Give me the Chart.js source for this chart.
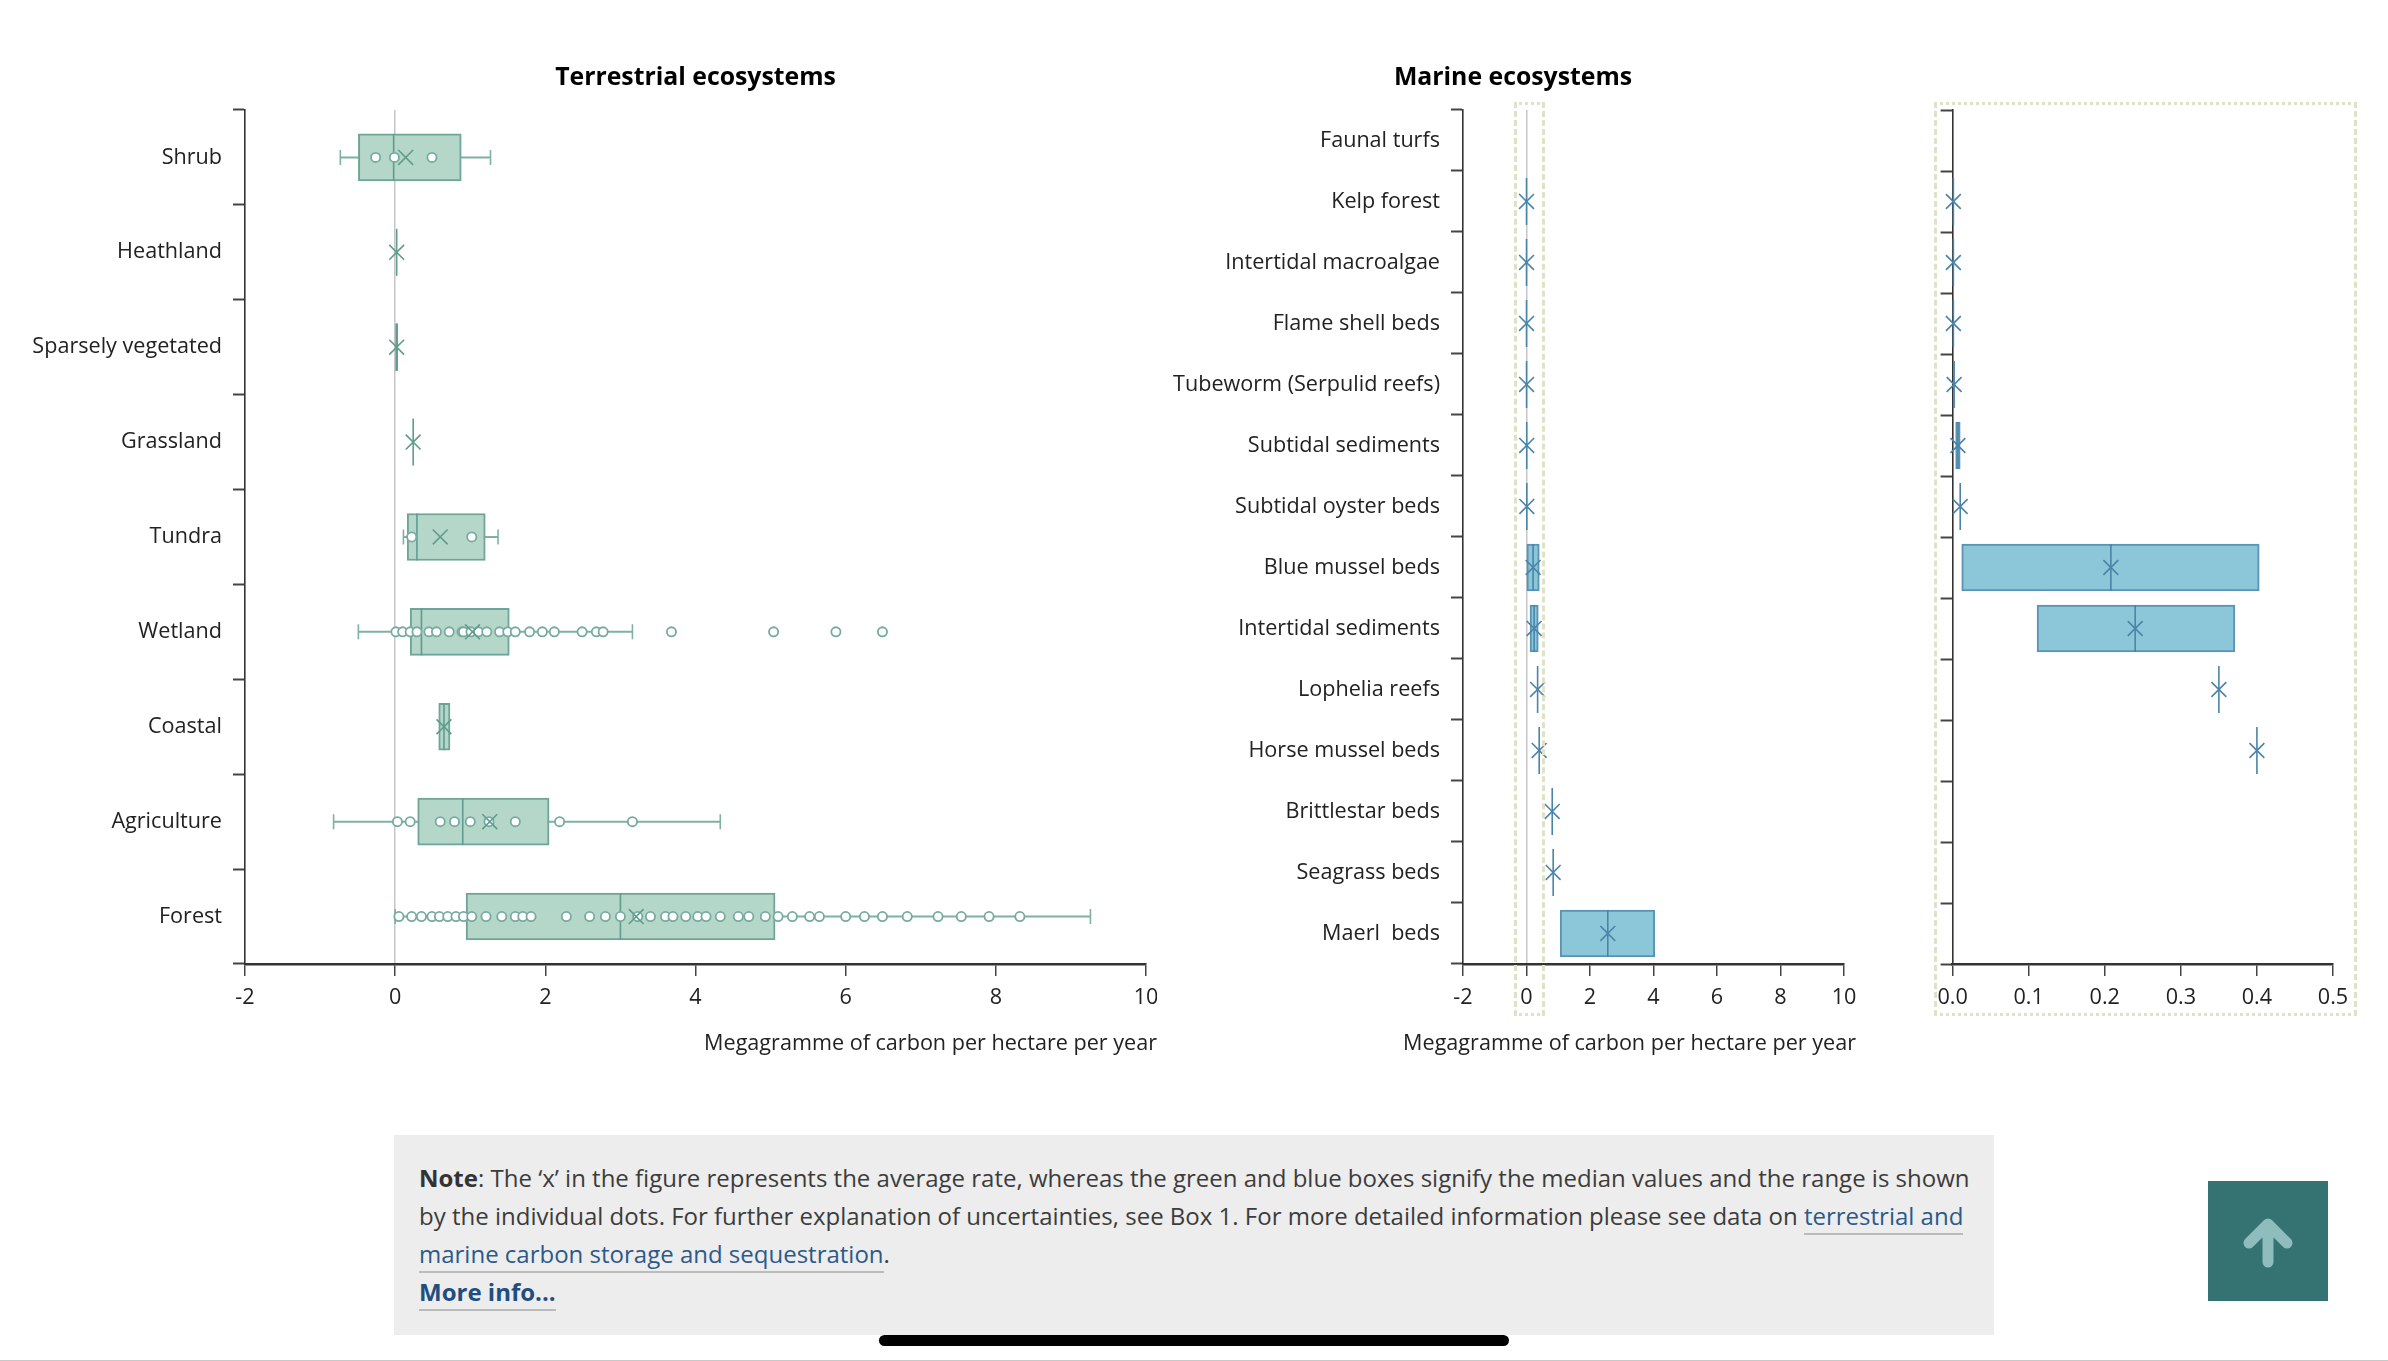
<!DOCTYPE html>
<html>
<head>
<meta charset="utf-8">
<title>Carbon sequestration rates</title>
<script src="https://cdn.jsdelivr.net/npm/chart.js@4/dist/chart.umd.min.js"></script>
<style>
  html, body { margin: 0; padding: 0; background: #fff; }
  body { position: relative; width: 2388px; height: 1361px; overflow: hidden; font-family: "Open Sans", sans-serif; }
  canvas { position: absolute; }
  .zoomBox { position: absolute; top: 102px; height: 908px; box-sizing: content-box; border-width: 3px; border-color: #dfe2c6; border-style: dotted dashed; pointer-events: none; }
  #note { position: absolute; left: 394px; top: 1135px; width: 1600px; height: 200px; background: #ededed; color: #3c3c3c; font-size: 24px; line-height: 38px; box-sizing: border-box; padding: 24px 0 0 25px; white-space: nowrap; }
  #note a { color: #2b5a8a; border-bottom: 2px solid #bbb; padding-bottom: 1px; }
  #note b { color: #333; }
  #note a.more { font-weight: 700; color: #1f4e80; }
  #upButton { position: absolute; left: 2208px; top: 1181px; width: 120px; height: 120px; background: #357272; }
  #homeBar { position: absolute; left: 879px; top: 1335px; width: 630px; height: 11px; border-radius: 6px; background: #000; }
  #bottomLine { position: absolute; left: 0; top: 1360px; width: 2388px; height: 1px; background: #c8c8c8; }
</style>
</head>
<body>
<canvas id="terrestrialChart" style="left:0;top:50px" width="1157" height="1010"></canvas>
<canvas id="marineChart" style="left:1170px;top:50px" width="686" height="1010"></canvas>
<canvas id="marineZoomChart" style="left:1905px;top:50px" width="455" height="1010"></canvas>
<div class="zoomBox" style="left:1514px;width:25px"></div>
<div class="zoomBox" style="left:1934px;width:417px"></div>
<div id="note"><b>Note</b>: The ‘x’ in the figure represents the average rate, whereas the green and blue boxes signify the median values and the range is shown<br>by the individual dots. For further explanation of uncertainties, see Box 1. For more detailed information please see data on <a>terrestrial and</a><br><a>marine carbon storage and sequestration</a>.<br><a class="more">More info...</a></div>
<div id="upButton"><svg width="120" height="120"><path d="M60 81V45M41 62L60 43L79 62" fill="none" stroke="#8fbcbc" stroke-width="11" stroke-linecap="round" stroke-linejoin="round"/></svg></div>
<div id="homeBar"></div>
<div id="bottomLine"></div>
<script>
// Terrestrial ecosystems
const terrestrialCategories = ['Shrub', 'Heathland', 'Sparsely vegetated', 'Grassland', 'Tundra', 'Wetland', 'Coastal', 'Agriculture', 'Forest'];
const terrestrialBoxLow = [-0.49, null, 0.005, null, 0.16, 0.2, 0.58, 0.3, 0.945];
const terrestrialBoxHigh = [0.88, null, 0.035, null, 1.2, 1.52, 0.73, 2.05, 5.06];
const terrestrialMedian = [-0.02, 0.02, 0.02, 0.24, 0.29, 0.35, 0.65, 0.9, 3.0];
const terrestrialMean = [0.14, 0.02, 0.02, 0.24, 0.6, 1.03, 0.65, 1.26, 3.21];
const terrestrialWhiskerLow = [-0.73, null, null, null, 0.11, -0.49, null, -0.82, 0.0];
const terrestrialWhiskerHigh = [1.27, null, null, null, 1.37, 3.16, null, 4.33, 9.26];
const shrubDots = [-0.26, -0.01, 0.49];
const tundraDots = [0.22, 1.02];
const wetlandDots = [0.01, 0.1, 0.2, 0.29, 0.45, 0.55, 0.72, 0.89, 0.91, 1.01, 1.11, 1.22, 1.39, 1.5, 1.6, 1.79, 1.96, 2.12, 2.49, 2.68, 2.77, 3.68, 5.04, 5.87, 6.49];
const agricultureDots = [0.03, 0.2, 0.6, 0.79, 1.0, 1.25, 1.6, 2.19, 3.16];
const forestDots = [0.05, 0.22, 0.35, 0.49, 0.59, 0.7, 0.81, 0.91, 1.02, 1.21, 1.42, 1.6, 1.7, 1.81, 2.28, 2.59, 2.8, 3.0, 3.23, 3.4, 3.6, 3.7, 3.87, 4.03, 4.14, 4.33, 4.57, 4.71, 4.93, 5.1, 5.29, 5.52, 5.65, 6.0, 6.25, 6.49, 6.82, 7.23, 7.54, 7.91, 8.32];

// Marine ecosystems
const marineCategories = ['Faunal turfs', 'Kelp forest', 'Intertidal macroalgae', 'Flame shell beds', 'Tubeworm (Serpulid reefs)', 'Subtidal sediments', 'Subtidal oyster beds', 'Blue mussel beds', 'Intertidal sediments', 'Lophelia reefs', 'Horse mussel beds', 'Brittlestar beds', 'Seagrass beds', 'Maerl  beds'];
const marineBoxLow = [null, null, null, null, null, 0.004, null, 0.012, 0.111, null, null, null, null, 1.06];
const marineBoxHigh = [null, null, null, null, null, 0.01, null, 0.403, 0.371, null, null, null, null, 4.04];
const marineMedian = [null, 0.001, 0.001, 0.001, 0.002, 0.007, 0.01, 0.208, 0.24, 0.35, 0.4, 0.81, 0.84, 2.56];
const marineMean = [null, 0.001, 0.001, 0.001, 0.002, 0.007, 0.01, 0.208, 0.24, 0.35, 0.4, 0.81, 0.84, 2.56];

const wideTicks = [-2, 0, 2, 4, 6, 8, 10];
const zoomTicks = [0, 0.1, 0.2, 0.3, 0.4, 0.5];
const axisTitle = 'Megagramme of carbon per hectare per year';

const green = { fill: '#b5d7c9', box: '#6fa596', line: '#5f9c8d', whisker: '#7fb0a4', dot: '#78ab9f' };
const blue = { fill: '#8bc6d9', box: '#5a93b4', line: '#4a84a8' };

Chart.defaults.font.family = '"Open Sans", sans-serif';
Chart.defaults.font.size = 21.6;
Chart.defaults.color = '#222';

// points past the end of the axis are left out, the marks are not clipped at the axis line
function rowPoints(categories, values, limit) {
    return categories
        .map((category, i) => ({ x: values[i], y: category }))
        .filter(point => point.x !== null && point.x <= limit);
}

function boxDataset(categories, low, high, colors) {
    return {
        type: 'bar',
        indexAxis: 'y',
        data: categories.map((c, i) => (low[i] === null ? null : [low[i], high[i]])),
        backgroundColor: colors.fill,
        borderColor: colors.box,
        borderWidth: 2,
        borderSkipped: false,
        barThickness: 47,
        order: 4
    };
}

function medianDataset(categories, values, colors, limit = Infinity) {
    return {
        type: 'scatter',
        clip: false,
        data: rowPoints(categories, values, limit),
        pointStyle: 'line',
        pointRotation: 90,
        pointRadius: 23.5,
        pointBorderColor: colors.line,
        pointBorderWidth: 1.6,
        order: 3
    };
}

function meanDataset(categories, values, colors, limit = Infinity) {
    return {
        type: 'scatter',
        clip: false,
        data: rowPoints(categories, values, limit),
        pointStyle: 'crossRot',
        pointRadius: 10.5,
        pointBorderColor: colors.line,
        pointBorderWidth: 1.6,
        order: 1
    };
}

function whiskerDatasets(categories, low, high, colors) {
    const datasets = [];
    categories.forEach((category, i) => {
        if (low[i] === null) return;
        datasets.push({
            type: 'scatter',
            showLine: true,
            data: [{ x: low[i], y: category }, { x: high[i], y: category }],
            borderColor: colors.whisker,
            borderWidth: 2,
            pointStyle: 'line',
            pointRotation: 90,
            pointRadius: 7.5,
            pointBorderColor: colors.whisker,
            pointBorderWidth: 1.6,
            order: 5
        });
    });
    return datasets;
}

function dotDataset(category, values, colors) {
    return {
        type: 'scatter',
        data: values.map(value => ({ x: value, y: category })),
        pointStyle: 'circle',
        pointRadius: 4.6,
        pointBackgroundColor: '#fff',
        pointBorderColor: colors.dot,
        pointBorderWidth: 1.8,
        order: 2
    };
}

function buildChart(id, settings) {
    return new Chart(document.getElementById(id), {
        data: { labels: settings.categories, datasets: settings.datasets },
        options: {
            responsive: false,
            animation: false,
            events: [],
            // autoPadding would shrink the plot by the radius of the biggest point
            layout: { autoPadding: false, padding: settings.padding },
            plugins: {
                legend: { display: false },
                tooltip: { enabled: false },
                title: settings.title ? {
                    display: true,
                    text: settings.title,
                    fullSize: settings.titleFullSize,
                    font: { size: 24.8, weight: '700' },
                    color: '#000',
                    padding: { top: 13, bottom: 17.2 }
                } : { display: false },
                subtitle: settings.title ? {
                    display: true,
                    text: axisTitle,
                    position: 'bottom',
                    align: 'end',
                    font: { size: 21.6 },
                    color: '#222',
                    padding: { top: 6.5, bottom: 0 }
                } : { display: false }
            },
            scales: {
                x: {
                    type: 'linear',
                    min: settings.ticks[0],
                    max: settings.ticks[settings.ticks.length - 1],
                    afterBuildTicks: scale => { scale.ticks = settings.ticks.map(value => ({ value })); },
                    afterFit: scale => {
                        scale.height = 60;
                        scale.paddingLeft = 0;
                        // the axis title runs past the end of the axis, so the gap goes on the scale
                        scale.paddingRight = settings.rightGap;
                    },
                    ticks: {
                        padding: 9,
                        maxRotation: 0,
                        callback: settings.tickFormat
                    },
                    grid: {
                        drawOnChartArea: settings.zeroLine,
                        color: ctx => (ctx.tick && ctx.tick.value === 0 ? '#c6c6c6' : 'rgba(0,0,0,0)'),
                        lineWidth: 1.5,
                        tickColor: '#444',
                        tickLength: 12,
                        tickWidth: 1.5
                    },
                    border: { color: '#333', width: 2.5 }
                },
                y: {
                    type: 'category',
                    offset: true,
                    afterFit: scale => {
                        scale.width = settings.axisWidth;
                        scale.paddingTop = 0;
                        scale.paddingBottom = 0;
                    },
                    ticks: {
                        display: settings.showLabels,
                        padding: 11,
                        autoSkip: false
                    },
                    grid: {
                        offset: true,
                        drawOnChartArea: false,
                        tickColor: '#444',
                        tickLength: 12,
                        tickWidth: 2
                    },
                    border: { color: '#333', width: 1.6 }
                }
            }
        }
    });
}

const plainTick = value => String(value);

buildChart('terrestrialChart', {
    categories: terrestrialCategories,
    title: 'Terrestrial ecosystems',
    titleFullSize: false,
    ticks: wideTicks,
    tickFormat: plainTick,
    zeroLine: true,
    showLabels: true,
    axisWidth: 245,
    rightGap: 11,
    padding: { left: 0, right: 0, top: 0, bottom: 3.6 },
    datasets: [
        boxDataset(terrestrialCategories, terrestrialBoxLow, terrestrialBoxHigh, green),
        medianDataset(terrestrialCategories, terrestrialMedian, green),
        meanDataset(terrestrialCategories, terrestrialMean, green),
        ...whiskerDatasets(terrestrialCategories, terrestrialWhiskerLow, terrestrialWhiskerHigh, green),
        dotDataset('Shrub', shrubDots, green),
        dotDataset('Tundra', tundraDots, green),
        dotDataset('Wetland', wetlandDots, green),
        dotDataset('Agriculture', agricultureDots, green),
        dotDataset('Forest', forestDots, green)
    ]
});

buildChart('marineChart', {
    categories: marineCategories,
    title: 'Marine ecosystems',
    titleFullSize: true,
    ticks: wideTicks,
    tickFormat: plainTick,
    zeroLine: true,
    showLabels: true,
    axisWidth: 293,
    rightGap: 12,
    padding: { left: 0, right: 0, top: 0, bottom: 3.6 },
    datasets: [
        boxDataset(marineCategories, marineBoxLow, marineBoxHigh, blue),
        medianDataset(marineCategories, marineMedian, blue),
        meanDataset(marineCategories, marineMean, blue)
    ]
});

buildChart('marineZoomChart', {
    categories: marineCategories,
    title: null,
    ticks: zoomTicks,
    tickFormat: value => value.toFixed(1),
    zeroLine: false,
    showLabels: false,
    axisWidth: 47.6,
    rightGap: 0,
    padding: { left: 0, right: 27, top: 60, bottom: 36 },
    datasets: [
        boxDataset(marineCategories, marineBoxLow, marineBoxHigh, blue),
        medianDataset(marineCategories, marineMedian, blue, 0.5),
        meanDataset(marineCategories, marineMean, blue, 0.5)
    ]
});
</script>
</body>
</html>
